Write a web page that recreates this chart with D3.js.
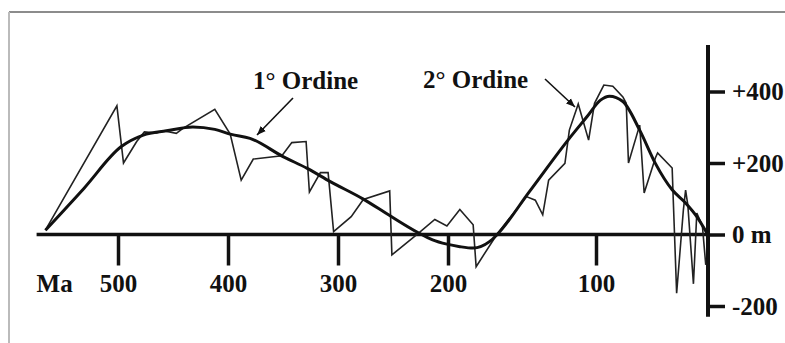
<!DOCTYPE html>
<html>
<head>
<meta charset="utf-8">
<script src="https://cdn.jsdelivr.net/npm/d3@7"></script>
<style>
  html, body { margin: 0; padding: 0; background: #fff; }
  svg { display: block; }
</style>
</head>
<body>
<div id="app"></div>
<script>
const width = 785
const height = 343

// ages (Ma) and sea level (m)
const firstOrderAge = [566, 531, 497, 477, 456, 432, 412, 397, 380, 350, 328, 307, 277, 253, 227, 214, 201, 192, 183, 172, 167, 145, 118, 106, 96, 88, 76, 61, 47, 32, 20, 10, 1]
const firstOrderLevel = [12, 129, 246, 278, 290, 301, 294, 280, 269, 218, 185, 148, 99, 53, 5, -15, -27, -34, -38, -20, -1, 120, 269, 330, 376, 387, 372, 292, 199, 125, 88, 50, 4]

const secondOrderAge = [566, 501, 495, 483, 476, 465, 459, 447, 441, 412, 398, 388, 377, 351, 342, 329, 326, 316, 309, 304, 288, 277, 253, 251, 227, 212, 201, 192, 183, 181, 167, 147, 141, 136, 132, 121, 118, 112, 105, 101, 93, 85, 76, 73, 71, 61, 57, 47, 45, 32, 31, 28, 22, 20, 18, 13, 10, 5, 2]
const secondOrderLevel = [12, 360, 200, 260, 287, 284, 290, 283, 297, 350, 281, 152, 211, 220, 257, 260, 119, 173, 173, 8, 50, 98, 122, -57, 3, 42, 24, 70, 27, -90, 0, 106, 96, 55, 152, 199, 292, 365, 264, 367, 418, 415, 385, 367, 200, 306, 116, 214, 228, 186, 96, -164, 68, 124, 82, -138, 60, 24, -85]

const xTicks = [500, 400, 300, 200, 100]
const yTicks = [400, 200, 0, -200]
const labels = [
  { text: "1° Ordine", x: 253, y: 89, from: [293, 98], to: [257, 135] },
  { text: "2° Ordine", x: 423, y: 88, from: [545, 79], to: [575, 107] }
]

const font = "'Liberation Serif', 'Times New Roman', serif"

const x = d3.scaleLinear()
  .domain([500, 200, 100, 0])
  .range([118, 448, 596, 708])

const y = d3.scaleLinear()
  .domain([-200, 400])
  .range([306, 91.5])

const svg = d3.select("#app").append("svg")
  .attr("width", width)
  .attr("height", height)

// scanned frame
svg.append("line")
  .attr("x1", 9).attr("x2", width).attr("y1", 12).attr("y2", 12)
  .attr("stroke", "#666").attr("stroke-width", 1.5)
svg.append("line")
  .attr("x1", 9).attr("x2", 9).attr("y1", 12).attr("y2", height)
  .attr("stroke", "#bbb").attr("stroke-width", 2)

// x axis
const xAxis = svg.append("g")
  .attr("transform", `translate(0, ${y(0)})`)
  .call(d3.axisBottom(x).tickValues(xTicks).tickSize(31).tickFormat(d3.format("d")))
xAxis.select(".domain").remove()
xAxis.selectAll(".tick line").attr("stroke", "#111").attr("stroke-width", 3.5)
xAxis.selectAll(".tick text")
  .attr("y", 57.5).attr("dy", 0)
  .attr("font-family", font).attr("font-weight", "bold").attr("font-size", 25)
  .attr("fill", "#111")
xAxis.append("line")
  .attr("x1", x(574)).attr("x2", x(0))
  .attr("stroke", "#111").attr("stroke-width", 3.5)
xAxis.append("text")
  .attr("x", x(574)).attr("y", 57.5)
  .attr("text-anchor", "start")
  .attr("font-family", font).attr("font-weight", "bold").attr("font-size", 25)
  .attr("fill", "#111")
  .text("Ma")

// right axis
const yAxis = svg.append("g")
  .attr("transform", `translate(${x(0)}, 0)`)
  .call(d3.axisRight(y).tickValues(yTicks).tickSize(17).tickPadding(7)
    .tickFormat(d => d > 0 ? "+" + d : d === 0 ? "0 m" : String(d)))
yAxis.select(".domain").remove()
yAxis.selectAll(".tick line").attr("stroke", "#111").attr("stroke-width", 3.5)
yAxis.selectAll(".tick text")
  .attr("font-family", font).attr("font-weight", "bold").attr("font-size", 25)
  .attr("fill", "#111")
yAxis.append("line")
  .attr("y1", y(530)).attr("y2", y(-230))
  .attr("stroke", "#111").attr("stroke-width", 4)

// curves
const secondLine = d3.line()
  .x(d => x(d[0]))
  .y(d => y(d[1]))
const firstLine = d3.line()
  .x(d => x(d[0]))
  .y(d => y(d[1]))
  .curve(d3.curveMonotoneX)

svg.append("path")
  .attr("d", secondLine(d3.zip(secondOrderAge, secondOrderLevel)))
  .attr("fill", "none").attr("stroke", "#222").attr("stroke-width", 1.6)
  .attr("stroke-linejoin", "miter")

svg.append("path")
  .attr("d", firstLine(d3.zip(firstOrderAge, firstOrderLevel)))
  .attr("fill", "none").attr("stroke", "#111").attr("stroke-width", 3)

// labels and arrows
svg.append("defs").append("marker")
  .attr("id", "head")
  .attr("viewBox", "0 0 10 10")
  .attr("refX", 10).attr("refY", 5)
  .attr("markerWidth", 9).attr("markerHeight", 9)
  .attr("markerUnits", "userSpaceOnUse")
  .attr("orient", "auto")
  .append("path")
  .attr("d", "M0,1L10,5L0,9Z")
  .attr("fill", "#111")

labels.forEach(l => {
  svg.append("text")
    .attr("x", l.x).attr("y", l.y)
    .attr("font-family", font).attr("font-weight", "bold").attr("font-size", 25)
    .attr("fill", "#111")
    .text(l.text)
  svg.append("line")
    .attr("x1", l.from[0]).attr("y1", l.from[1])
    .attr("x2", l.to[0]).attr("y2", l.to[1])
    .attr("stroke", "#111").attr("stroke-width", 1.6)
    .attr("marker-end", "url(#head)")
})
</script>
</body>
</html>
